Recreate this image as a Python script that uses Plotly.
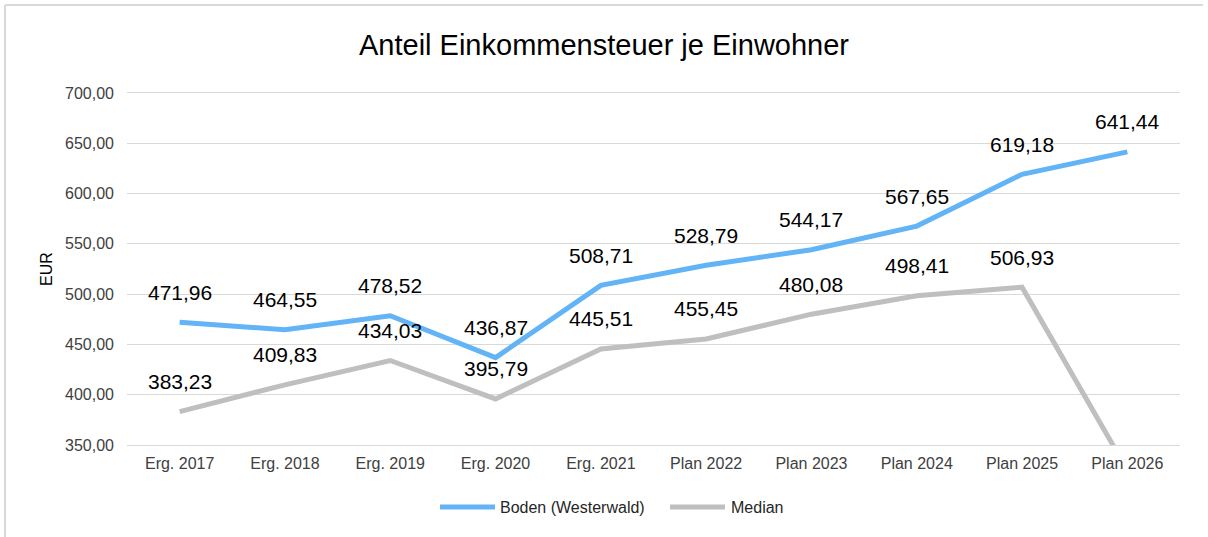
import plotly.graph_objects as go

# ---- data ----
categories = ["Erg. 2017", "Erg. 2018", "Erg. 2019", "Erg. 2020", "Erg. 2021",
              "Plan 2022", "Plan 2023", "Plan 2024", "Plan 2025", "Plan 2026"]
boden = [471.96, 464.55, 478.52, 436.87, 508.71, 528.79, 544.17, 567.65, 619.18, 641.44]
median = [383.23, 409.83, 434.03, 395.79, 445.51, 455.45, 480.08, 498.41, 506.93, 325.0]
series_names = ["Boden (Westerwald)", "Median"]
y_min, y_max, y_step = 350, 700, 50

# ---- style ----
W, H = 1208, 537
ML, MR, MT, MB = 127, 28, 93, 92
colors = ["#62B4F6", "#BFBFBF"]
font_family = "Liberation Sans, Arial, sans-serif"
label_shift = 30
legend_items_px = [(440, 495, 498), (670, 725, 729)]  # line x0, x1, text x
legend_y_px = 507


def fmt(v):
    return f"{v:.2f}".replace(".", ",")


pw = W - ML - MR
ph = H - MT - MB


def px_x(p):
    return (p - ML) / pw


def px_y(p):
    return (H - MB - p) / ph


fig = go.Figure()
for name, vals, col in zip(series_names, [boden, median], colors):
    fig.add_trace(go.Scatter(
        x=categories, y=vals, name=name, mode="lines",
        line=dict(color=col, width=5),
        cliponaxis=True, showlegend=False,
    ))

annotations = []
for vals in [boden, median]:
    for c, v in zip(categories, vals):
        if y_min <= v <= y_max:
            annotations.append(dict(
                x=c, y=v, xref="x", yref="y", text=fmt(v), showarrow=False,
                yshift=label_shift, font=dict(size=21, color="#000000", family=font_family),
            ))

shapes = [
    dict(type="line", xref="paper", yref="paper", x0=px_x(5), x1=px_x(1203), y0=px_y(5), y1=px_y(5),
         line=dict(color="#D9D9D9", width=2)),
    dict(type="line", xref="paper", yref="paper", x0=px_x(5), x1=px_x(5), y0=px_y(5), y1=px_y(540),
         line=dict(color="#D9D9D9", width=2)),
]

# custom legend (longer line samples like the original)
for name, col, (x0, x1, tx) in zip(series_names, colors, legend_items_px):
    shapes.append(dict(type="line", xref="paper", yref="paper",
                       x0=px_x(x0), x1=px_x(x1), y0=px_y(legend_y_px), y1=px_y(legend_y_px),
                       line=dict(color=col, width=5)))
    annotations.append(dict(x=px_x(tx), y=px_y(legend_y_px), xref="paper", yref="paper",
                            text=name, showarrow=False, xanchor="left", yanchor="middle",
                            font=dict(size=16, color="#262626", family=font_family)))

fig.update_layout(
    width=W, height=H,
    margin=dict(l=ML, r=MR, t=MT, b=MB),
    paper_bgcolor="white", plot_bgcolor="white",
    font=dict(family=font_family, color="#404040", size=16),
    separators=",.",
    title=dict(text="Anteil Einkommensteuer je Einwohner", x=0.5, xref="container",
               y=1 - 45 / H, yref="container", xanchor="center", yanchor="middle",
               font=dict(size=29, color="#000000", family=font_family)),
    xaxis=dict(type="category", range=[-0.5, len(categories) - 0.5], showgrid=False,
               showline=True, linecolor="#D9D9D9", linewidth=1, mirror=True,
               ticks="", tickfont=dict(size=16, color="#404040"),
               ticklabelstandoff=4, fixedrange=True),
    yaxis=dict(range=[y_min, y_max], dtick=y_step, tick0=y_min, tickformat=".2f",
               showgrid=True, gridcolor="#D9D9D9", gridwidth=1, zeroline=False,
               showline=False, ticks="", tickfont=dict(size=16, color="#404040"),
               ticklabelstandoff=12,
               title=dict(text="EUR", font=dict(size=16, color="#000000"), standoff=8)),
    annotations=annotations,
    shapes=shapes,
    showlegend=False,
)

fig.write_html("out.html", config={"displayModeBar": False},
               post_script="document.body.style.margin='0';")
